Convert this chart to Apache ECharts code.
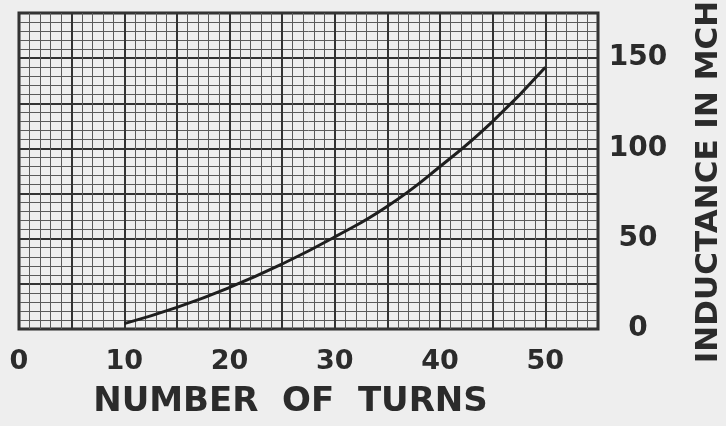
<!DOCTYPE html>
<html>
<head>
<meta charset="utf-8">
<script src="https://cdn.jsdelivr.net/npm/echarts@6/dist/echarts.min.js"></script>
<style>
  html, body { margin: 0; padding: 0; background: #eeeeee; }
  #chart { width: 726px; height: 426px; }
</style>
</head>
<body>
<div id="chart"></div>
<script>
// turns vs inductance
const turns = [10, 15, 20, 25, 30, 35, 40, 45, 50]
const inductance = [3, 12, 23, 36, 51, 68, 90, 115, 145]
const xTickLabels = [0, 10, 20, 30, 40, 50]
const yTickLabels = [0, 50, 100, 150]

const ink = '#2b2b2b'
const font = 'DejaVu Sans'

const option = {
  backgroundColor: '#eeeeee',
  animation: false,
  grid: {
    left: 19,
    right: 128,
    top: 13,
    bottom: 97,
    show: true,
    borderColor: ink,
    borderWidth: 3
  },
  xAxis: {
    type: 'value',
    min: 0,
    max: 55,
    interval: 5,
    name: 'NUMBER  OF  TURNS',
    nameLocation: 'middle',
    nameGap: 56,
    nameTextStyle: {
      color: ink,
      fontFamily: font,
      fontWeight: 'bold',
      fontSize: 34,
      padding: [0, 36, 0, 0]
    },
    axisLine: { show: false },
    axisTick: { show: false },
    minorTick: { show: false, splitNumber: 5 },
    axisLabel: {
      color: ink,
      fontFamily: font,
      fontWeight: 'bold',
      fontSize: 27,
      margin: 19,
      formatter: v => (xTickLabels.includes(v) ? String(v) : '')
    },
    splitLine: { show: true, lineStyle: { color: '#333', width: 2 } },
    minorSplitLine: { show: true, lineStyle: { color: '#5a5a5a', width: 1 } }
  },
  yAxis: {
    type: 'value',
    position: 'right',
    min: 0,
    max: 175,
    interval: 25,
    axisLine: { show: false },
    axisTick: { show: false },
    minorTick: { show: false, splitNumber: 5 },
    axisLabel: {
      color: ink,
      fontFamily: font,
      fontWeight: 'bold',
      fontSize: 28,
      align: 'center',
      margin: 40,
      formatter: v => (yTickLabels.includes(v) ? String(v) : '')
    },
    splitLine: { show: true, lineStyle: { color: '#333', width: 2 } },
    minorSplitLine: { show: true, lineStyle: { color: '#5a5a5a', width: 1 } }
  },
  graphic: [
    {
      type: 'text',
      x: 709,
      y: 182,
      rotation: Math.PI / 2,
      style: {
        text: 'INDUCTANCE IN MCH',
        fill: ink,
        font: 'bold 31px "DejaVu Sans"',
        align: 'center',
        verticalAlign: 'middle'
      }
    }
  ],
  series: [
    {
      type: 'line',
      data: turns.map((t, i) => [t, inductance[i]]),
      smooth: true,
      showSymbol: false,
      lineStyle: { color: '#1e1e1e', width: 3 }
    }
  ]
}

const chart = echarts.init(document.getElementById('chart'))
chart.setOption(option)
</script>
</body>
</html>
